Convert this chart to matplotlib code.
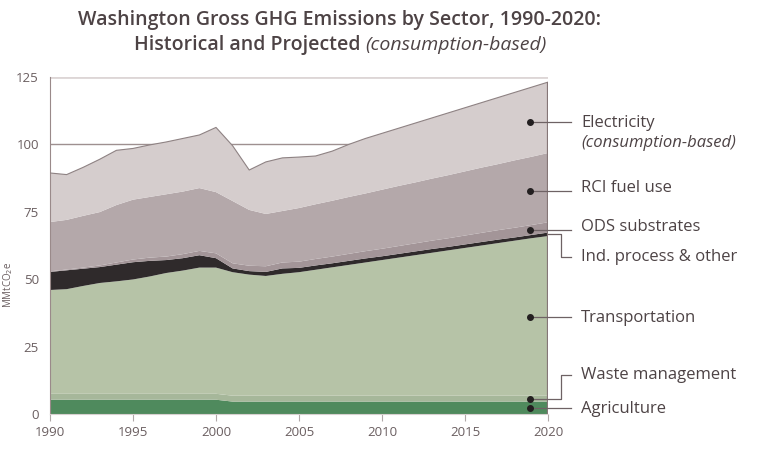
import matplotlib
matplotlib.use("Agg")
import matplotlib.pyplot as plt
import numpy as np

plt.rcParams['font.family'] = ['Open Sans', 'DejaVu Sans']

years = np.arange(1990, 2021)

# sector emissions, MMtCO2e (each band's own thickness)
agriculture = [5.3] * 11 + [4.6] * 20
waste = [2.2] * 11 + [2.2] * 20
transport_top = [46.0, 46.3, 47.5, 48.6, 49.2, 49.9, 51.0, 52.3, 53.2, 54.3, 54.3,
                 52.6, 51.7, 51.2, 52.0, 52.6, 53.5, 54.4, 55.3, 56.2, 57.1,
                 58.0, 58.9, 59.8, 60.7, 61.6, 62.5, 63.4, 64.3, 65.2, 66.0]
ind_top = [52.7, 53.3, 53.9, 54.5, 55.4, 56.3, 56.8, 57.1, 57.8, 58.9, 57.8,
           54.0, 53.0, 52.7, 54.0, 54.2, 55.1, 55.9, 56.8, 57.7, 58.5,
           59.4, 60.3, 61.2, 62.0, 62.9, 63.8, 64.7, 65.5, 66.4, 67.3]
ods = [0.2, 0.3, 0.4, 0.6, 0.8, 1.0, 1.2, 1.3, 1.5, 1.6, 1.8,
       1.9, 2.0, 2.1, 2.2, 2.3, 2.4, 2.5, 2.6, 2.7, 2.8,
       2.9, 3.0, 3.1, 3.2, 3.3, 3.4, 3.5, 3.6, 3.7, 3.8]
rci_top = [71.2, 72.0, 73.5, 74.9, 77.5, 79.5, 80.5, 81.5, 82.5, 83.8, 82.3,
           79.0, 75.7, 74.2, 75.3, 76.4, 77.8, 79.1, 80.5, 81.8, 83.2,
           84.6, 85.9, 87.3, 88.6, 90.0, 91.4, 92.7, 94.1, 95.4, 96.8]
total = [89.4, 88.8, 91.5, 94.5, 97.8, 98.5, 99.8, 100.9, 102.2, 103.5, 106.3,
         99.5, 90.5, 93.5, 95.0, 95.3, 95.7, 97.5, 100.0, 102.2, 104.1,
         106.0, 107.9, 109.8, 111.7, 113.6, 115.5, 117.4, 119.3, 121.2, 123.1]

agriculture = np.array(agriculture)
waste = np.array(waste)
transport = np.array(transport_top) - agriculture - waste
ind_process = np.array(ind_top) - np.array(transport_top)
ods = np.array(ods)
rci = np.array(rci_top) - np.array(ind_top) - ods
electricity = np.array(total) - np.array(rci_top)

layers = [agriculture, waste, transport, ind_process, ods, rci, electricity]
colors = ['#4f8a5d', '#a6b79a', '#b6c3a7', '#2f2a2b', '#a39598', '#b4a8aa', '#d5cdcd']

fig = plt.figure(figsize=(7.73, 4.49), dpi=100)
ax = fig.add_axes([50 / 773, 35 / 449, 498 / 773, 337 / 449])

ax.axhline(125, color='#ddd6d6', lw=2, zorder=0)
ax.axhline(100, color='#9e9090', lw=1, zorder=0)
ax.stackplot(years, *layers, colors=colors, lw=0, zorder=2)

cum = np.cumsum(layers, axis=0)
ax.plot(years, cum[-1], color='#8e8283', lw=0.8, zorder=3)
ax.vlines(2020, 0, cum[-1][-1], color='#857677', lw=1.6, zorder=4)

ax.set_xlim(1990, 2020)
ax.set_ylim(0, 125)
ax.set_xticks(range(1990, 2021, 5))
ax.set_yticks(range(0, 126, 25))
for s in ['top', 'right']:
    ax.spines[s].set_visible(False)
ax.spines['left'].set_color('#9a8a8a')
ax.spines['bottom'].set_color('#d8d0d0')
ax.tick_params(axis='x', length=5, color='#b0a8a8', labelsize=9.5,
               labelcolor='#6a5e60', pad=4)
ax.tick_params(axis='y', length=0, labelsize=9.5, labelcolor='#6a5e60', pad=8)

fig.text(8 / 773, 1 - 285 / 449, 'MMtCO$_2$e', rotation=90, fontsize=7,
         color='#6a5e60', ha='center', va='center')

# right-hand labels with leader lines
lab_color = '#4d4345'
line_color = '#6e6264'
x_dot = 2018.9
x_end = 2021.4
x_txt = 2022.0
x_bend = 2020.8
i19 = list(years).index(2019)
bottoms = np.vstack([np.zeros(len(years)), cum[:-1]])
mid = lambda k: (bottoms[k][i19] + cum[k][i19]) / 2

labels = [
    ('Electricity', 6, 108.0),
    ('RCI fuel use', 5, 83.8),
    ('ODS substrates', 4, 69.4),
    ('Ind. process & other', 3, 58.2),
    ('Transportation', 2, 35.6),
    ('Waste management', 1, 14.5),
    ('Agriculture', 0, 1.9),
]
for name, k, ty in labels:
    my = mid(k)
    if name == 'Ind. process & other':
        ax.plot([2020, x_bend, x_bend, x_end], [cum[k][-1] - 0.6, cum[k][-1] - 0.6, ty, ty],
                color=line_color, lw=0.9, clip_on=False, zorder=5)
    elif name == 'Waste management':
        ax.plot([x_dot, x_bend, x_bend, x_end], [my, my, ty, ty],
                color=line_color, lw=0.9, clip_on=False, zorder=5)
        ax.plot(x_dot, my, 'o', ms=4, color='#231f20', zorder=6, clip_on=False)
    else:
        ax.plot([x_dot, x_end], [my, my], color=line_color, lw=0.9,
                clip_on=False, zorder=5)
        ax.plot(x_dot, my, 'o', ms=4, color='#231f20', zorder=6, clip_on=False)
    ax.text(x_txt, ty, name, fontsize=12, color=lab_color, va='center',
            ha='left', clip_on=False)
ax.text(x_txt, 100.5, '(consumption-based)', fontsize=12, color=lab_color,
        va='center', ha='left', style='italic', clip_on=False)

# title, second line mixes roman and italic
fig.text(340 / 773, 1 - 20 / 449, 'Washington Gross GHG Emissions by Sector, 1990-2020:',
         fontsize=14, fontweight='semibold', color='#4d4345', ha='center', va='center')
r = fig.canvas.get_renderer()
t1 = fig.text(0, 1 - 45 / 449, 'Historical and Projected ', fontsize=14,
              fontweight='semibold', color='#4d4345', ha='left', va='center')
t2 = fig.text(0, 1 - 45 / 449, '(consumption-based)', fontsize=14, style='italic',
              color='#4d4345', ha='left', va='center')
w1 = t1.get_window_extent(r).width / fig.bbox.width
w2 = t2.get_window_extent(r).width / fig.bbox.width
x0 = 340 / 773 - (w1 + w2) / 2
t1.set_x(x0)
t2.set_x(x0 + w1)

fig.savefig('out.png', dpi=100)
